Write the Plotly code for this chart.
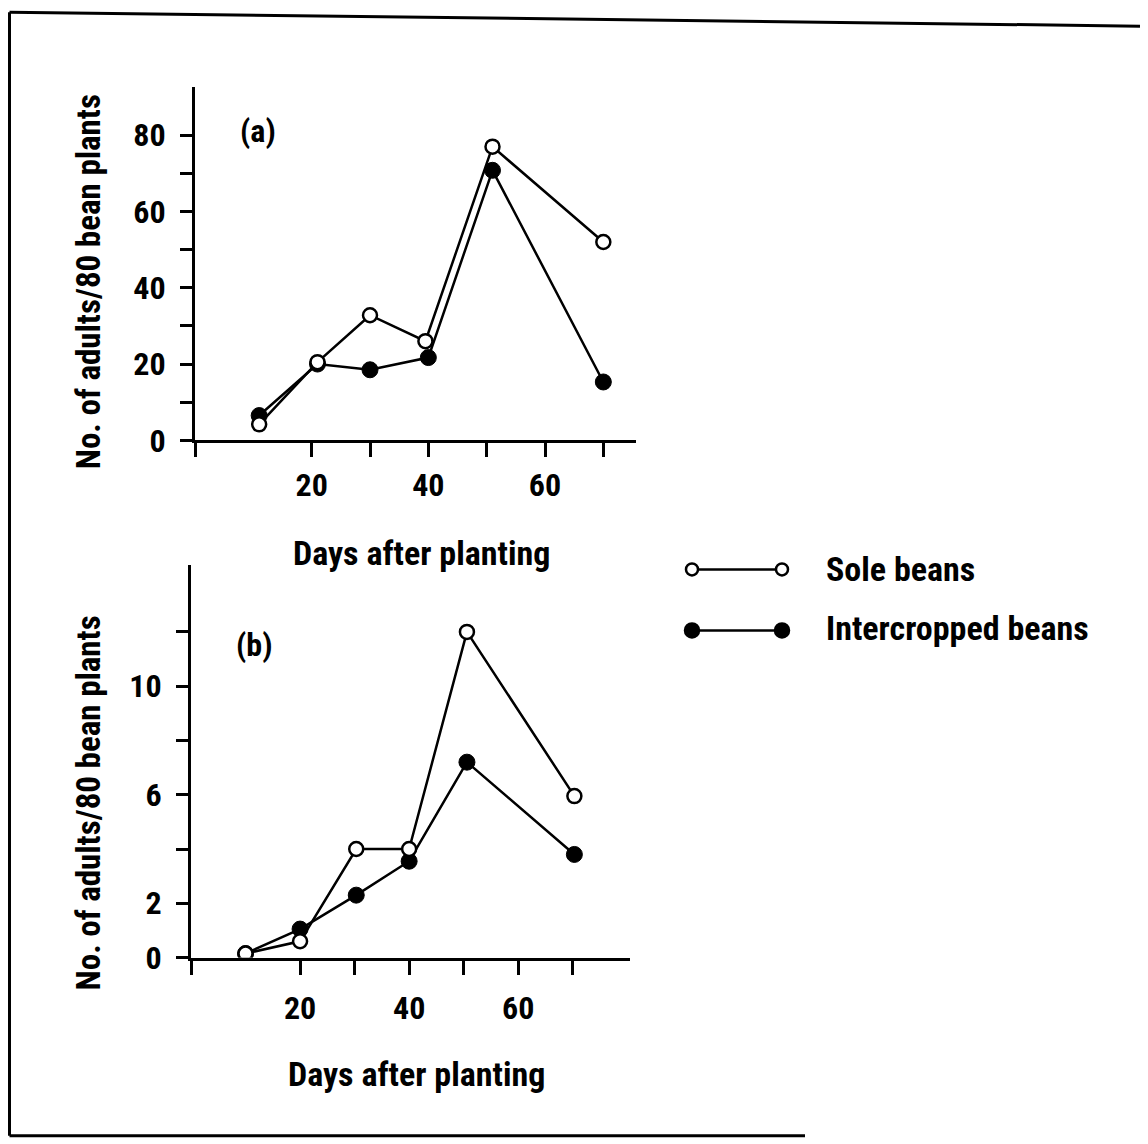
import plotly.graph_objects as go

# page has an 8px body margin; the photo comes out about 1.7% shorter vertically,
# so target positions are stretched by 1/SY
OFF = 8
SY = 0.983
W, H = 1148 - 2 * OFF, 1148
FONT = "Roboto Condensed, Open Sans Condensed, Liberation Sans, sans-serif"

# Panel (a)
days_a_sole = [11, 21, 30, 39.5, 51, 70]
sole_a = [4.2, 20.5, 32.8, 26, 77, 52]
days_a_inter = [11, 21, 30, 40, 51, 70]
inter_a = [6.5, 20, 18.5, 21.7, 70.8, 15.3]

# Panel (b)
days_b = [10, 20, 30.3, 40, 50.6, 70.3]
sole_b = [0.15, 0.6, 4.0, 4.0, 12.0, 5.95]
inter_b = [0.15, 1.05, 2.3, 3.55, 7.2, 3.8]

# axis ticks
xa_ticks = [0, 20, 30, 40, 50, 60, 70]
xa_text = ["", "20", "", "40", "", "60", ""]
ya_ticks = [0, 10, 20, 30, 40, 50, 60, 70, 80]
ya_text = ["0", "", "20", "", "40", "", "60", "", "80"]
yb_ticks = [0, 2, 4, 6, 8, 10, 12]
yb_text = ["0", "2", "", "6", "", "10", ""]

series_names = ["Sole beans", "Intercropped beans"]
x_title = "Days after planting"
y_title = "No. of adults/80 bean plants"


def px(x):
    return (x - OFF) / W


def py(y):
    return 1 - (y / SY - OFF) / H


fig = go.Figure()

open_marker = dict(symbol="circle", size=14, color="white", line=dict(color="black", width=2.5))
fill_marker = dict(symbol="circle", size=16, color="black", line=dict(color="black", width=1))
line_style = dict(color="black", width=2.5)

fig.add_trace(go.Scatter(x=days_a_inter, y=inter_a, mode="lines+markers", marker=fill_marker,
                         line=line_style, xaxis="x", yaxis="y", name=series_names[1], showlegend=False))
fig.add_trace(go.Scatter(x=days_a_sole, y=sole_a, mode="lines+markers", marker=open_marker,
                         line=line_style, xaxis="x", yaxis="y", name=series_names[0], showlegend=False))
fig.add_trace(go.Scatter(x=days_b, y=inter_b, mode="lines+markers", marker=fill_marker,
                         line=line_style, xaxis="x2", yaxis="y2", name=series_names[1], showlegend=False))
fig.add_trace(go.Scatter(x=days_b, y=sole_b, mode="lines+markers", marker=open_marker,
                         line=line_style, xaxis="x2", yaxis="y2", name=series_names[0], showlegend=False))

tickfont = dict(family=FONT, size=32, color="black", weight="bold")
axis_common = dict(showline=True, linecolor="black", linewidth=3, ticks="outside", tickcolor="black",
                   tickwidth=2.5, showgrid=False, zeroline=False, tickfont=tickfont, tickmode="array",
                   fixedrange=True)

fig.update_layout(
    width=W, height=H,
    margin=dict(l=0, r=0, t=0, b=0),
    paper_bgcolor="white", plot_bgcolor="white",
    showlegend=False,
    xaxis=dict(domain=[px(195), px(636)], range=[0, 75.6], anchor="y", tickvals=xa_ticks,
               ticktext=xa_text, ticklen=14, ticklabelstandoff=0, **axis_common),
    yaxis=dict(domain=[py(440), py(87)], range=[0, 92.6], anchor="x", tickvals=ya_ticks,
               ticktext=ya_text, ticklen=12, ticklabelstandoff=8, **axis_common),
    xaxis2=dict(domain=[px(191), px(630)], range=[0, 80.5], anchor="y2", tickvals=xa_ticks,
                ticktext=xa_text, ticklen=14, ticklabelstandoff=6, **axis_common),
    yaxis2=dict(domain=[py(957), py(565)], range=[0, 14.45], anchor="x2", tickvals=yb_ticks,
                ticktext=yb_text, ticklen=12, ticklabelstandoff=8, **axis_common),
)


def note(text, x, y, angle=0, xanchor="center", size=34):
    return dict(text=text, x=px(x), y=py(y), xref="paper", yref="paper", showarrow=False,
                xanchor=xanchor, yanchor="middle", textangle=angle,
                font=dict(family=FONT, size=size, color="black", weight="bold"))


ann = [
    note("(a)", 258, 131, size=32),
    note("(b)", 254, 645, size=32),
    note(x_title, 421, 553),
    note(x_title, 416, 1073),
    note(y_title, 88, 282, angle=-90, size=33),
    note(y_title, 88, 803, angle=-90, size=33),
    note(series_names[0], 824, 569, xanchor="left"),
    note(series_names[1], 824, 628, xanchor="left"),
]
fig.update_layout(annotations=ann)

shapes = []
# legend keys
for yy, filled in [(569, False), (630, True)]:
    shapes.append(dict(type="line", xref="paper", yref="paper", x0=px(692), x1=px(782), y0=py(yy), y1=py(yy),
                       line=dict(color="black", width=2.5)))
    r = 7 if filled else 6
    for xx in (692, 782):
        shapes.append(dict(type="circle", xref="paper", yref="paper",
                           x0=px(xx - r), x1=px(xx + r), y0=py(yy + r), y1=py(yy - r),
                           fillcolor="black" if filled else "white",
                           line=dict(color="black", width=2.5)))
# frame (left edge kept just inside the drawing area)
fl = OFF + 1.5
shapes.append(dict(type="line", xref="paper", yref="paper", x0=px(fl), x1=px(1140), y0=py(12), y1=py(26),
                   line=dict(color="black", width=3)))
shapes.append(dict(type="line", xref="paper", yref="paper", x0=px(fl), x1=px(fl), y0=py(12), y1=py(1135),
                   line=dict(color="black", width=3)))
shapes.append(dict(type="line", xref="paper", yref="paper", x0=px(fl), x1=px(805), y0=py(1135), y1=py(1135),
                   line=dict(color="black", width=3)))
fig.update_layout(shapes=shapes)

fig.write_html("out.html")
